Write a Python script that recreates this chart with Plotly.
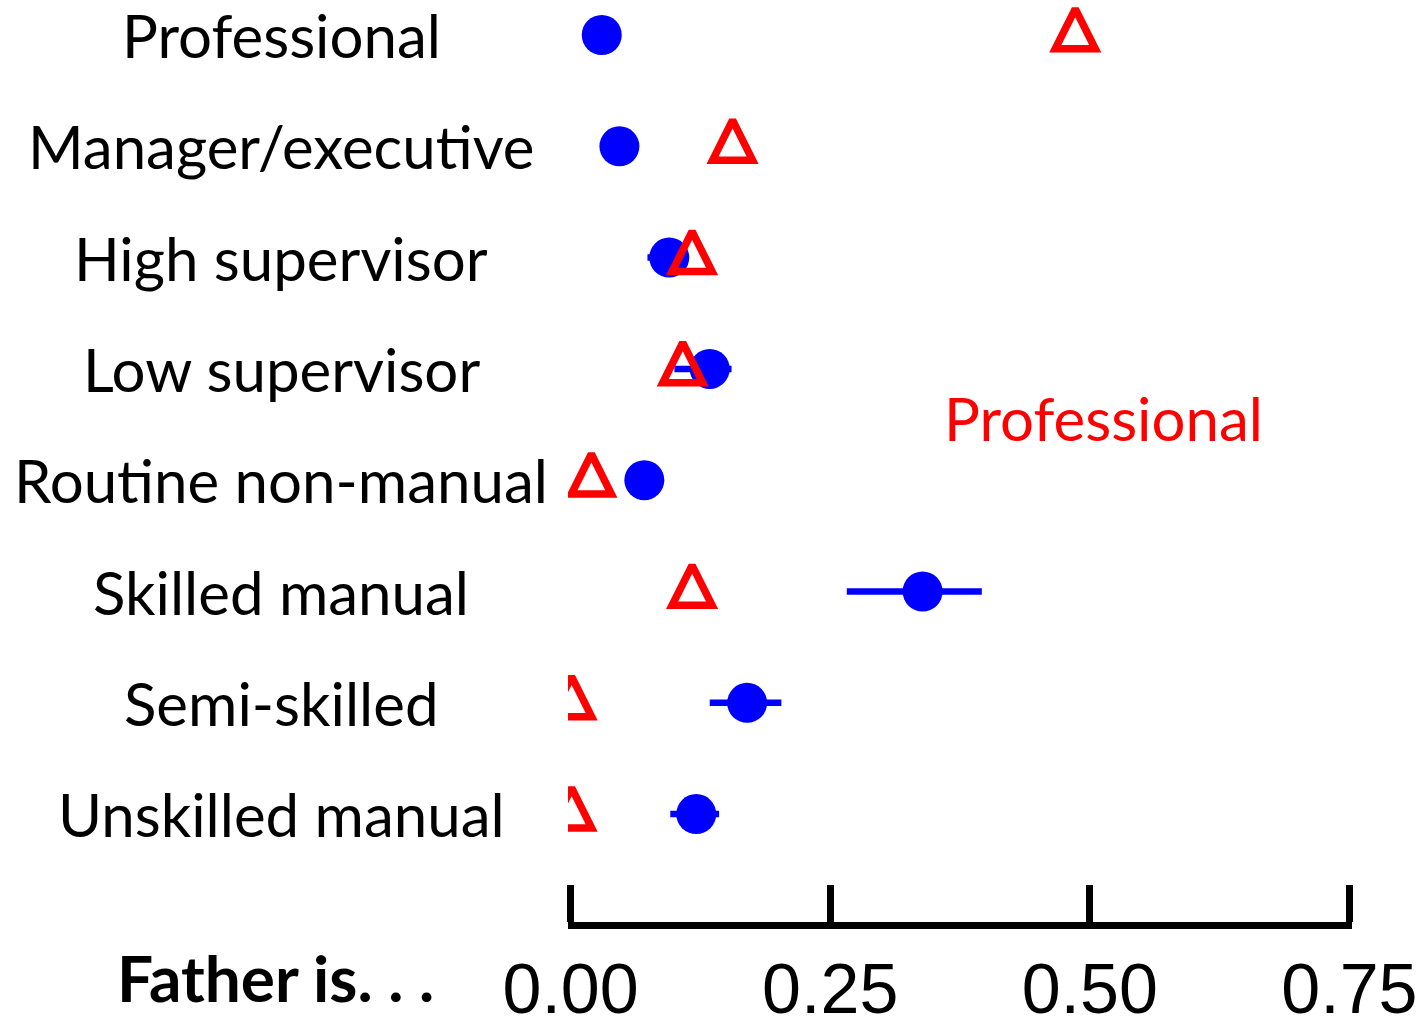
import plotly.graph_objects as go

# Occupational categories, top to bottom
categories = [
    "Professional",
    "Manager/executive",
    "High supervisor",
    "Low supervisor",
    "Routine non-manual",
    "Skilled manual",
    "Semi-skilled",
    "Unskilled manual",
]

# Blue series: point estimates with interval bounds
blue_est = [0.030, 0.047, 0.095, 0.134, 0.071, 0.339, 0.170, 0.121]
blue_low = [0.030, 0.047, 0.074, 0.100, 0.053, 0.266, 0.134, 0.096]
blue_high = [0.030, 0.047, 0.114, 0.155, 0.089, 0.396, 0.203, 0.143]

# Red series: point estimates
red_est = [0.486, 0.156, 0.117, 0.108, 0.020, 0.117, 0.001, 0.001]

x_ticks = [0.0, 0.25, 0.50, 0.75]
x_tick_text = ["0.00", "0.25", "0.50", "0.75"]

BLUE = "#0000FF"
RED = "#FF0000"
LABEL_FONT = "Lato, 'DejaVu Sans', sans-serif"

rows = list(range(len(categories)))
err_plus = [h - e for h, e in zip(blue_high, blue_est)]
err_minus = [e - l for e, l in zip(blue_est, blue_low)]

fig = go.Figure()

fig.add_trace(go.Scatter(
    x=blue_est, y=rows, mode="markers",
    marker=dict(symbol="circle", size=40, color=BLUE, line=dict(width=0)),
    error_x=dict(type="data", array=err_plus, arrayminus=err_minus,
                 color=BLUE, thickness=6.5, width=0),
    showlegend=False, hoverinfo="x+y",
))

# Open triangles sit on an overlaid axis so the marker is centred on its row
fig.add_trace(go.Scatter(
    x=red_est, y=rows, mode="markers", yaxis="y2",
    marker=dict(symbol="arrow-up-open", size=40, color=RED,
                line=dict(width=7.5, color=RED)),
    showlegend=False, hoverinfo="x+y",
))

# Row geometry (in row units)
y_top = -0.3145
y_bottom = 7.9695
tri_shift = 0.235

# Category names, centred in the left margin
for i, name in enumerate(categories):
    fig.add_annotation(
        x=-0.366, xref="paper", y=i, yref="y",
        text=name, showarrow=False, xanchor="center", yanchor="middle",
        font=dict(family=LABEL_FONT, size=60, color="black"),
    )

fig.add_annotation(
    x=0.513, y=3.44, xref="x", yref="y",
    text="Professional", showarrow=False, xanchor="center", yanchor="middle",
    font=dict(family=LABEL_FONT, size=60, color=RED),
)

fig.add_annotation(
    x=-0.3737, xref="paper", y=-0.06, yref="paper",
    text="<b>Father is.&nbsp;.&nbsp;.</b>", showarrow=False,
    xanchor="center", yanchor="middle",
    font=dict(family=LABEL_FONT, size=64, color="black"),
)

fig.update_layout(
    width=1427, height=1016,
    margin=dict(l=568, r=75, t=0, b=94),
    paper_bgcolor="white", plot_bgcolor="white",
    xaxis=dict(
        range=[-0.0025, 0.7525], tickvals=x_ticks, ticktext=x_tick_text,
        showgrid=False, zeroline=False, automargin=False,
        showline=True, linecolor="black", linewidth=7,
        ticks="inside", ticklen=37, tickwidth=6.5, tickcolor="black",
        tickfont=dict(family="'Liberation Sans', Arial, sans-serif", size=70, color="black"),
    ),
    yaxis=dict(
        range=[y_bottom, y_top], showticklabels=False, showgrid=False,
        zeroline=False, showline=False, ticks="", automargin=False,
    ),
    yaxis2=dict(
        range=[y_bottom + tri_shift, y_top + tri_shift], overlaying="y",
        visible=False, showgrid=False, zeroline=False,
    ),
)

fig.write_html("out.html")
